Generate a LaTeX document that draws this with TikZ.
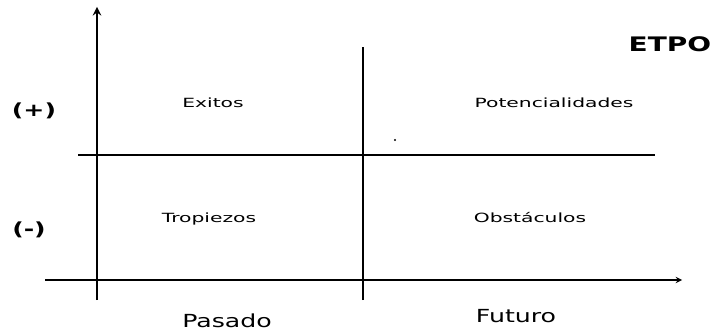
\documentclass[tikz,border=0pt]{standalone}
\usepackage{fontspec}
\setmainfont{DejaVu Sans}
\newfontfamily\quadfont[FakeStretch=1.6]{DejaVu Sans}
\newfontfamily\axisfont[FakeStretch=1.4]{DejaVu Sans}
\usetikzlibrary{arrows,positioning}

\begin{document}
\begin{tikzpicture}[
        x=0.75pt, y=0.75pt,
        axis/.style={
            ->,
            >=stealth,
            line width=1.1pt,
            color=black
        },
        mainaxis/.style={
            axis,
            line width=1.8pt
        },
        divider/.style={
            line width=0.9pt,
            color=black
        },
        quadrant/.style={
            anchor=base,
            inner sep=0pt,
            font=\quadfont\fontsize{9.5}{11}\selectfont
        },
        sign/.style={
            anchor=base,
            inner sep=0pt,
            font=\axisfont\bfseries\fontsize{13.5}{15}\selectfont
        },
        timelabel/.style={
            anchor=base,
            inner sep=0pt,
            font=\axisfont\fontsize{13.5}{15}\selectfont
        },
        title/.style={
            anchor=base,
            inner sep=0pt,
            font=\axisfont\bfseries\fontsize{15}{17}\selectfont
        }
    ]

    % page size of the reference
    \useasboundingbox (0,0) rectangle (712,335);

    % end points of the axes and the dividing lines
    \coordinate (ybottom) at (97,35);
    \coordinate (ytop) at (97,328);
    \coordinate (xleft) at (45,55);
    \coordinate (xright) at (682,55);
    \coordinate (midleft) at (78,180);
    \coordinate (midright) at (655,180);
    \coordinate (nowbottom) at (363,35);
    \coordinate (nowtop) at (363,288);

    % axes
    \draw[mainaxis] (ybottom) -- (ytop);
    \draw[axis] (xleft) -- (xright);

    % dividing lines
    \draw[divider] (midleft) -- (midright);
    \draw[divider] (nowbottom) -- (nowtop);

    % title
    \node[title] (etpo) at (670,283) {ETPO};

    % signs on the vertical axis
    \node[sign] (plus) at (34,218) {(+)};
    \node[sign] (minus) at (29,99) {(-)};

    % the four quadrants
    \node[quadrant] (exitos) at (213,227) {Exitos};
    \node[quadrant] (potencial) at (554,227) {Potencialidades};
    \node[quadrant] (tropiezos) at (209,112) {Tropiezos};
    \node[quadrant] (obstaculos) at (530,112) {Obstáculos};

    % time labels
    \node[timelabel] (pasado) at (227,8) {Pasado};
    \node[timelabel] (futuro) at (516,13) {Futuro};

    % small dot in the upper right quadrant
    \fill (395,195) circle (1.2);

\end{tikzpicture}
\end{document}
